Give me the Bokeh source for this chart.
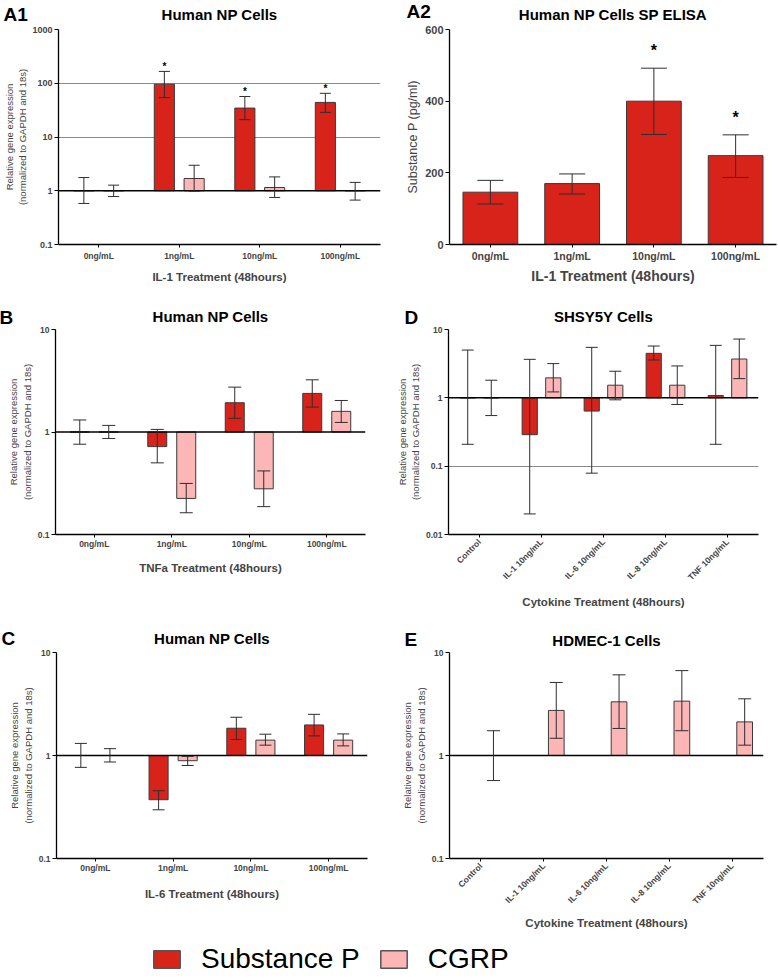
import math
from bokeh.plotting import figure
from bokeh.models import (Range1d, FactorRange, FixedTicker, CustomJSTickFormatter, Whisker,
                          TeeHead, ColumnDataSource, Span, Title, Legend, LegendItem)
from bokeh.transform import dodge
from bokeh.layouts import column, row
from bokeh.embed import file_html
from bokeh.resources import INLINE
from bokeh.core.properties import value

FONT = "Liberation Sans"
SP_COLOR = "#d8231a"
CGRP_COLOR = "#fcb6b6"
EDGE = "#3a3a3a"
ERR = "#2e2e2e"
GRID = "#8a8a8a"

SERIES = ["Substance P", "CGRP"]
SERIES_COLORS = [SP_COLOR, CGRP_COLOR]

# ---------------- data ----------------
doses = ["0ng/mL", "1ng/mL", "10ng/mL", "100ng/mL"]
cytokines = ["Control", "IL-1 10ng/mL", "IL-6 10ng/mL", "IL-8 10ng/mL", "TNF 10ng/mL"]

# A1 - IL-1, qPCR
a1_sp = [1.0, 96.0, 34.5, 44.0]
a1_sp_lo = [0.58, 54.0, 21.0, 28.7]
a1_sp_hi = [1.76, 166.0, 56.7, 65.0]
a1_sp_sig = [False, True, True, True]
a1_cgrp = [1.0, 1.69, 1.15, 1.0]
a1_cgrp_lo = [0.78, 0.98, 0.75, 0.67]
a1_cgrp_hi = [1.27, 2.98, 1.81, 1.43]

# A2 - SP ELISA (pg/ml)
a2_sp = [146, 170, 400, 248]
a2_sp_lo = [113, 141, 307, 187]
a2_sp_hi = [179, 197, 492, 306]
a2_sp_sig = [False, False, True, True]

# B - TNFa
b_sp = [1.0, 0.72, 1.93, 2.38]
b_sp_lo = [0.76, 0.50, 1.36, 1.75]
b_sp_hi = [1.31, 1.06, 2.74, 3.23]
b_cgrp = [1.0, 0.225, 0.279, 1.59]
b_cgrp_lo = [0.865, 0.163, 0.187, 1.24]
b_cgrp_hi = [1.16, 0.315, 0.417, 2.03]

# C - IL-6
c_sp = [1.0, 0.372, 1.84, 1.98]
c_sp_lo = [0.767, 0.297, 1.43, 1.55]
c_sp_hi = [1.31, 0.455, 2.35, 2.51]
c_cgrp = [1.0, 0.89, 1.41, 1.41]
c_cgrp_lo = [0.865, 0.80, 1.26, 1.24]
c_cgrp_hi = [1.165, 0.98, 1.61, 1.62]

# D - SHSY5Y
d_sp = [1.0, 0.289, 0.64, 4.48, 1.08]
d_sp_lo = [0.209, 0.02, 0.079, 3.58, 0.209]
d_sp_hi = [5.0, 3.66, 5.48, 5.73, 5.86]
d_cgrp = [1.0, 1.96, 1.53, 1.53, 3.7]
d_cgrp_lo = [0.55, 1.22, 0.935, 0.80, 1.91]
d_cgrp_hi = [1.81, 3.17, 2.45, 2.93, 7.25]

# E - HDMEC-1 (CGRP only)
e_cgrp = [1.0, 2.74, 3.32, 3.37, 2.12]
e_cgrp_lo = [0.571, 1.47, 1.83, 1.74, 1.26]
e_cgrp_hi = [1.74, 5.12, 6.07, 6.67, 3.55]

log_ticks_3 = [0.1, 1, 10, 100, 1000]
log_ticks_2 = [0.1, 1, 10]
log_ticks_d = [0.01, 0.1, 1, 10]
lin_ticks = [0, 200, 400, 600]

YLAB = "Relative gene expression\n(normalized to GAPDH and 18s)"


def new_fig(cats, w, h, bl, br, bt, bb, ylo, yhi, log):
    p = figure(width=w, height=h, x_range=FactorRange(factors=cats), y_range=Range1d(ylo, yhi),
               y_axis_type="log" if log else "linear", output_backend="svg",
               toolbar_location=None, min_border_left=bl, min_border_right=br,
               min_border_top=bt, min_border_bottom=bb)
    p.outline_line_color = None
    p.xgrid.visible = False
    p.ygrid.visible = False
    return p


def set_titles(p, letter, letter_offset, letter_standoff, text, text_standoff):
    # outer title: panel letter
    p.title.text = letter
    p.title.align = "left"
    p.title.vertical_align = "bottom"
    p.title.offset = letter_offset
    p.title.standoff = letter_standoff
    p.title.text_font = FONT
    p.title.text_font_size = "19px"
    p.title.text_font_style = "bold"
    p.title.text_color = "black"
    # inner title: panel heading
    p.add_layout(Title(text=text, align="center", vertical_align="top", standoff=text_standoff,
                       text_font=FONT, text_font_size="15px", text_font_style="bold",
                       text_color="black"), "above")


def style_axes(p, yticks, ylabel, xlabel, ylab_size, ytick_size, xtick_size, xlab_size,
               ylab_standoff, xlab_standoff, xtick_standoff, rotate=False, fmt_js=True):
    ya = p.yaxis[0]
    ya.ticker = FixedTicker(ticks=yticks, minor_ticks=[])
    if fmt_js:
        ya.formatter = CustomJSTickFormatter(code="return String(tick);")
    ya.axis_label = ylabel
    ya.axis_label_text_font = FONT
    ya.axis_label_text_font_size = ylab_size
    ya.axis_label_text_font_style = "normal"
    ya.axis_label_standoff = ylab_standoff
    ya.major_label_text_font = FONT
    ya.major_label_text_font_size = ytick_size
    ya.major_label_text_font_style = "bold"
    ya.major_label_standoff = 2
    ya.major_tick_out = 4
    ya.major_tick_in = 0
    ya.minor_tick_out = 0
    ya.minor_tick_in = 0
    ya.axis_line_color = "black"
    ya.axis_line_width = 1.3
    ya.major_tick_line_color = "black"

    xa = p.xaxis[0]
    xa.axis_label = xlabel
    xa.axis_label_text_font = FONT
    xa.axis_label_text_font_size = xlab_size
    xa.axis_label_text_font_style = "bold"
    xa.axis_label_standoff = xlab_standoff
    xa.major_label_text_font = FONT
    xa.major_label_text_font_size = xtick_size
    xa.major_label_text_font_style = "bold"
    xa.major_label_standoff = xtick_standoff
    xa.major_tick_out = 3
    xa.major_tick_in = 0
    xa.axis_line_color = "black"
    xa.axis_line_width = 1.3
    xa.major_tick_line_color = "black"
    if rotate:
        xa.major_label_orientation = math.pi / 4


def add_grid(p, ticks):
    p.ygrid.visible = True
    p.ygrid.ticker = FixedTicker(ticks=ticks)
    p.ygrid.grid_line_color = GRID
    p.ygrid.grid_line_width = 1


def add_series(p, cats, vals, lo, hi, offset, width, color, base, cap,
               sig=None, star_size="10px", star_off=0):
    src = ColumnDataSource(dict(cat=cats, val=vals, lo=lo, hi=hi))
    xs = dodge("cat", offset, range=p.x_range)
    p.vbar(x=xs, top="val", bottom=base, width=width, source=src,
           fill_color=color, line_color=EDGE, line_width=1)
    wh = Whisker(base=xs, upper="hi", lower="lo", source=src, line_color=ERR, line_width=1,
                 level="overlay",
                 upper_head=TeeHead(size=cap, line_color=ERR, line_width=1),
                 lower_head=TeeHead(size=cap, line_color=ERR, line_width=1))
    p.add_layout(wh)
    if sig:
        ssrc = ColumnDataSource(dict(cat=[c for c, s in zip(cats, sig) if s],
                                     y=[h for h, s in zip(hi, sig) if s]))
        p.text(x=dodge("cat", offset, range=p.x_range), y="y", text=value("*"), source=ssrc,
               text_align="center", text_baseline="bottom", text_font=value(FONT),
               text_font_size=value(star_size), text_font_style="bold", text_color="black",
               y_offset=star_off)


def baseline(p):
    p.add_layout(Span(location=1, dimension="width", line_color="black", line_width=1.5))


# ---------------- A1 ----------------
pA1 = new_fig(doses, 389, 300, 58, 9, 29, 54, 0.1, 1000, True)
set_titles(pA1, "A1", -55, -49, "Human NP Cells", 10)
style_axes(pA1, log_ticks_3, YLAB, "IL-1 Treatment (48hours)", "9.5px", "9px", "8.5px", "11.5px",
           1, 7, 3)
add_grid(pA1, [10, 100, 1000])
add_series(pA1, doses, a1_sp, a1_sp_lo, a1_sp_hi, -0.185, 0.25, SP_COLOR, 1, 11,
           sig=a1_sp_sig, star_size="10px", star_off=1)
add_series(pA1, doses, a1_cgrp, a1_cgrp_lo, a1_cgrp_hi, 0.185, 0.25, CGRP_COLOR, 1, 11)
baseline(pA1)

# ---------------- A2 ----------------
pA2 = new_fig(doses, 389, 300, 60, 2, 27, 56, 0, 600, False)
set_titles(pA2, "A2", -43, -40, "Human NP Cells SP ELISA", 9)
style_axes(pA2, lin_ticks, "Substance P (pg/ml)", "IL-1 Treatment (48hours)", "12.5px", "11px",
           "10.5px", "14px", 2, 3, 2, fmt_js=False)
add_series(pA2, doses, a2_sp, a2_sp_lo, a2_sp_hi, 0.0, 0.67, SP_COLOR, 0, 26,
           sig=a2_sp_sig, star_size="16px", star_off=-9)

# ---------------- B ----------------
pB = new_fig(doses, 389, 312, 55, 24, 29, 77, 0.1, 10, True)
set_titles(pB, "B", -56, -44, "Human NP Cells", 5)
style_axes(pB, log_ticks_2, YLAB, "TNFa Treatment (48hours)", "9.5px", "8.5px", "8.5px", "11.5px",
           2, 10, 1)
add_grid(pB, [10])
add_series(pB, doses, b_sp, b_sp_lo, b_sp_hi, -0.187, 0.245, SP_COLOR, 1, 13)
add_series(pB, doses, b_cgrp, b_cgrp_lo, b_cgrp_hi, 0.187, 0.245, CGRP_COLOR, 1, 13)
baseline(pB)

# ---------------- D ----------------
pD = new_fig(cytokines, 389, 312, 59, 20, 29, 78, 0.01, 10, True)
set_titles(pD, "D", -44, -44, "SHSY5Y Cells", 5)
style_axes(pD, log_ticks_d, YLAB, "Cytokine Treatment (48hours)", "9.5px", "8.5px", "8.5px",
           "11.5px", 2, 7, 3, rotate=True)
add_grid(pD, [0.1, 10])
add_series(pD, cytokines, d_sp, d_sp_lo, d_sp_hi, -0.19, 0.245, SP_COLOR, 1, 12)
add_series(pD, cytokines, d_cgrp, d_cgrp_lo, d_cgrp_hi, 0.19, 0.245, CGRP_COLOR, 1, 12)
baseline(pD)

# ---------------- C ----------------
pC = new_fig(doses, 389, 328, 56, 22, 40, 82, 0.1, 10, True)
set_titles(pC, "C", -55, -46, "Human NP Cells", 8)
style_axes(pC, log_ticks_2, YLAB, "IL-6 Treatment (48hours)", "9.5px", "8.5px", "8.5px", "11.5px",
           2, 12, 1)
add_grid(pC, [10])
add_series(pC, doses, c_sp, c_sp_lo, c_sp_hi, -0.187, 0.245, SP_COLOR, 1, 12)
add_series(pC, doses, c_cgrp, c_cgrp_lo, c_cgrp_hi, 0.187, 0.245, CGRP_COLOR, 1, 12)
baseline(pC)

# ---------------- E ----------------
pE = new_fig(cytokines, 389, 328, 60, 15, 36, 82, 0.1, 10, True)
set_titles(pE, "E", -45, -40, "HDMEC-1 Cells", 4)
style_axes(pE, log_ticks_2, YLAB, "Cytokine Treatment (48hours)", "9.5px", "8.5px", "8.5px",
           "11.5px", 2, 4, 3, rotate=True)
add_grid(pE, [10])
add_series(pE, cytokines, e_cgrp, e_cgrp_lo, e_cgrp_hi, 0.2, 0.25, CGRP_COLOR, 1, 13)
baseline(pE)

# ---------------- legend ----------------
pL = figure(width=778, height=36, output_backend="svg", toolbar_location=None, min_border=0,
            x_range=FactorRange(factors=SERIES), y_range=Range1d(0, 1))
pL.axis.visible = False
pL.grid.visible = False
pL.outline_line_color = None
lsrc = ColumnDataSource(dict(series=SERIES, color=SERIES_COLORS, top=[1, 1]))
r_leg = pL.vbar(x="series", top="top", width=0.5, fill_color="color", line_color="#555555",
                line_width=1.5, source=lsrc)
r_leg.visible = False
leg = Legend(items=[LegendItem(label=SERIES[0], renderers=[r_leg], index=0),
                    LegendItem(label=SERIES[1], renderers=[r_leg], index=1)],
             orientation="horizontal", location=(150, 1), glyph_width=33, glyph_height=22,
             label_text_font=FONT, label_text_font_size="28px", label_standoff=18, spacing=17,
             padding=0, margin=0, border_line_color=None, background_fill_alpha=0,
             label_text_color="black")
pL.add_layout(leg)

layout = column(row(pA1, pA2), row(pB, pD), row(pC, pE), pL)
open("out.html", "w").write(file_html(layout, INLINE, title="Human NP Cells"))
